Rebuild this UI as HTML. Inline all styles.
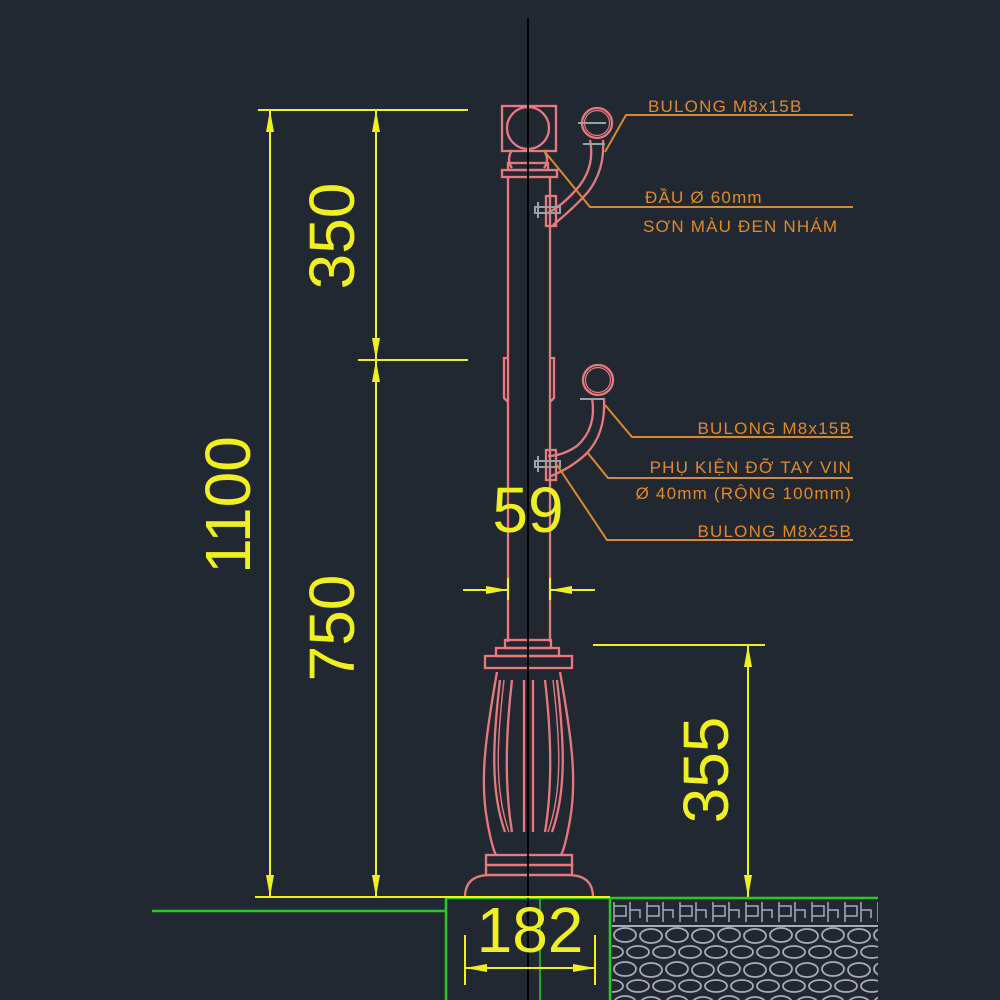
<!DOCTYPE html>
<html><head><meta charset="utf-8"><style>
html,body{margin:0;padding:0;background:#222831;}
svg{display:block}
text{font-family:"Liberation Sans",sans-serif;}
</style></head><body>
<svg width="1000" height="1000" viewBox="0 0 1000 1000" xmlns="http://www.w3.org/2000/svg">
<defs>
<pattern id="pav" x="612" y="898" width="33" height="28" patternUnits="userSpaceOnUse">
<path d="M2 4 V24 M2 8 H14 V18 H2 M18 4 V24 M18 12 H28 V20" stroke="#aab" stroke-width="1.5" fill="none"/>
</pattern>
<pattern id="stone" x="612" y="926" width="52" height="34" patternUnits="userSpaceOnUse">
<ellipse cx="13" cy="9" rx="11" ry="7" fill="none" stroke="#aab" stroke-width="1.8"/>
<ellipse cx="39" cy="10" rx="11" ry="7" fill="none" stroke="#aab" stroke-width="1.8"/>
<ellipse cx="26" cy="26" rx="11" ry="6" fill="none" stroke="#aab" stroke-width="1.8"/>
<ellipse cx="0" cy="26" rx="11" ry="6" fill="none" stroke="#aab" stroke-width="1.8"/>
<ellipse cx="52" cy="26" rx="11" ry="6" fill="none" stroke="#aab" stroke-width="1.8"/>
</pattern>
</defs>
<rect width="1000" height="1000" fill="#222831"/>

<!-- ground -->
<rect x="612" y="898" width="266" height="28" fill="url(#pav)"/>
<line x1="612" y1="926" x2="878" y2="926" stroke="#aab" stroke-width="2"/>
<rect x="612" y="927" width="266" height="73" fill="url(#stone)"/>
<g stroke="#22cc22" stroke-width="2.5" fill="none">
<line x1="152" y1="911" x2="446" y2="911"/>
<line x1="446" y1="898" x2="446" y2="1000"/>
<line x1="446" y1="898" x2="878" y2="898"/>
<line x1="610" y1="898" x2="610" y2="1000"/>
<line x1="540" y1="898" x2="540" y2="1000" stroke-width="1.5"/>
</g>

<!-- pole -->
<g stroke="#e77a80" stroke-width="2.3" fill="none">
<rect x="502" y="106" width="54" height="45"/>
<circle cx="528" cy="128" r="21"/>
<path d="M512 150 q-6 10 0 18 M544 150 q6 10 0 18"/>
<rect x="508" y="163" width="40" height="7"/>
<rect x="502" y="170" width="55" height="7"/>
<line x1="508" y1="177" x2="508" y2="642"/>
<line x1="550" y1="177" x2="550" y2="642"/>
<path d="M508 358 h-4 v40 l4 4 M550 358 h4 v40 l-4 4"/>
<circle cx="597" cy="123" r="15"/>
<circle cx="597" cy="123" r="12.5" stroke-width="1.2"/>
<path d="M590 140 q5 25 -10 45 q-14 18 -32 28 M603 140 q2 30 -15 52 q-14 16 -35 33"/>
<rect x="546" y="196" width="10" height="30"/>
<circle cx="598" cy="380" r="15"/>
<circle cx="598" cy="380" r="12.5" stroke-width="1.2"/>
<path d="M592 398 q5 30 -15 48 q-15 10 -29 10 M604 398 q2 36 -18 56 q-15 14 -35 22"/>
<rect x="546" y="450" width="10" height="30"/>
<rect x="505" y="640" width="46" height="8"/>
<rect x="496" y="648" width="63" height="8"/>
<rect x="485" y="656" width="87" height="12"/>
<path d="M497 672 C485 740 480 780 487 820 Q492 848 496 855 M560 672 C572 740 577 780 570 820 Q565 848 561 855"/>
<path d="M500 680 C493 740 490 790 505 832 M512 680 C505 740 505 790 512 832 M524 680 V832 M533 680 V832 M545 680 C552 740 552 790 545 832 M557 680 C564 740 567 790 552 832"/>
<path d="M504 680 C497 740 494 790 509 832 M553 680 C560 740 563 790 548 832" stroke-width="1.4"/>
<rect x="486" y="855" width="86" height="10"/>
<rect x="486" y="865" width="86" height="10"/>
<path d="M465 897 Q465 875 490 875 H568 Q593 875 593 897"/>
</g>
<g stroke="#9aa0a8" stroke-width="2" fill="none">
<path d="M535 207 h25 v6 h-25 z M538 202 v16"/>
<path d="M535 461 h25 v6 h-25 z M538 456 v16"/>
<path d="M578 123 h28 M583 144 h22 M580 399 h24"/>
</g>
<line x1="528" y1="18" x2="528" y2="1000" stroke="#000" stroke-width="2"/>

<!-- dimensions -->
<g stroke="#f0f020" stroke-width="2" fill="#f0f020">
<line x1="258" y1="110" x2="468" y2="110"/>
<line x1="358" y1="360" x2="468" y2="360"/>
<line x1="255" y1="897" x2="610" y2="897"/>
<line x1="270" y1="110" x2="270" y2="897"/>
<line x1="376" y1="110" x2="376" y2="897"/>
<path d="M270 110 l-4 22 h8 z M270 897 l-4 -22 h8 z M376 110 l-4 22 h8 z M376 360 l-4 -22 h8 z M376 360 l-4 22 h8 z M376 897 l-4 -22 h8 z" stroke="none"/>
<line x1="593" y1="645" x2="765" y2="645"/>
<line x1="748" y1="645" x2="748" y2="897"/>
<path d="M748 645 l-4 22 h8 z M748 897 l-4 -22 h8 z" stroke="none"/>
<line x1="463" y1="590" x2="508" y2="590"/>
<line x1="550" y1="590" x2="595" y2="590"/>
<line x1="508" y1="578" x2="508" y2="600"/><line x1="550" y1="578" x2="550" y2="600"/>
<path d="M508 590 l-22 -4 v8 z M550 590 l22 -4 v8 z" stroke="none"/>
<line x1="465" y1="935" x2="465" y2="985"/>
<line x1="595" y1="935" x2="595" y2="985"/>
<line x1="465" y1="968" x2="595" y2="968"/>
<path d="M465 968 l22 -4 v8 z M595 968 l-22 -4 v8 z" stroke="none"/>
</g>
<g fill="#f0f020" font-size="64">
<text transform="translate(250,505) rotate(-90)" text-anchor="middle">1100</text>
<text transform="translate(354,236) rotate(-90)" text-anchor="middle">350</text>
<text transform="translate(354,628) rotate(-90)" text-anchor="middle">750</text>
<text transform="translate(728,770) rotate(-90)" text-anchor="middle">355</text>
<text x="528" y="532" text-anchor="middle">59</text>
<text x="530" y="952" text-anchor="middle">182</text>
</g>

<!-- leaders -->
<g stroke="#d98a2e" stroke-width="2" fill="none">
<path d="M605 152 L626 115 H853"/>
<path d="M545 152 L590 207 H853"/>
<path d="M605 405 L632 437 H853"/>
<path d="M587 452 L608 478 H853"/>
<path d="M557 465 L607 540 H853"/>
</g>
<g fill="#e08a2a" font-size="17" letter-spacing="1.2">
<text x="648" y="112">BULONG M8x15B</text>
<text x="645" y="203">ĐẦU Ø 60mm</text>
<text x="643" y="232">SƠN MÀU ĐEN NHÁM</text>
<text x="852" y="434" text-anchor="end">BULONG M8x15B</text>
<text x="852" y="473" text-anchor="end">PHỤ KIỆN ĐỠ TAY VIN</text>
<text x="852" y="499" text-anchor="end">Ø 40mm (RỘNG 100mm)</text>
<text x="852" y="537" text-anchor="end">BULONG M8x25B</text>
</g>
</svg>
</body></html>
